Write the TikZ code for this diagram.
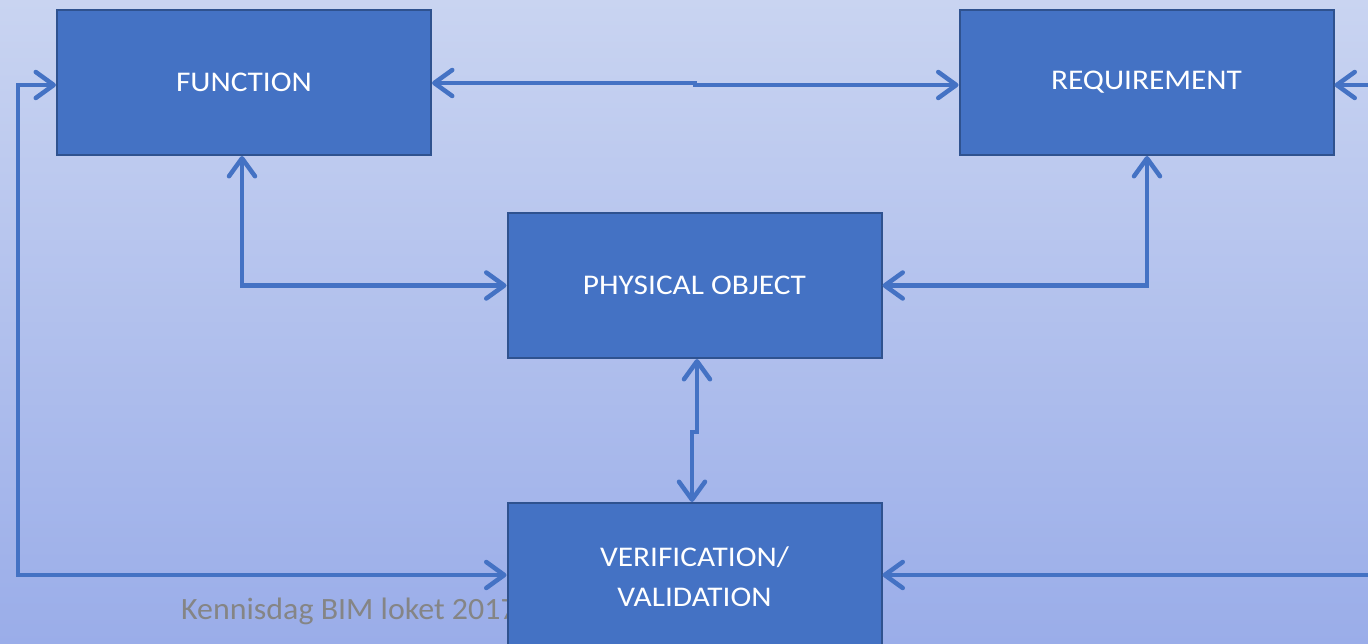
\documentclass[tikz,border=0pt]{standalone}
\usepackage{fontspec}
\usepackage{graphicx}
\setmainfont{Carlito}
\usetikzlibrary{arrows.meta}
\definecolor{bgtop}{RGB}{201,212,241}
\definecolor{bgbot}{RGB}{154,173,233}
\definecolor{boxfill}{RGB}{68,114,196}
\definecolor{boxedge}{RGB}{47,82,143}
\definecolor{linec}{RGB}{68,114,196}
\definecolor{graytext}{RGB}{133,133,133}
\newcommand{\widetxt}[1]{\scalebox{1.10}[1]{#1}}
\tikzset{
  blockbox/.style={draw=boxedge, line width=2pt, fill=boxfill, text=white,
    minimum width=374pt, minimum height=145pt, inner sep=0pt, align=center,
    font=\fontsize{28.5}{40}\selectfont},
  tipx/.tip={Straight Barb[length=18pt,width=26pt,line cap=round,line join=round]},
  conn/.style={draw=linec, line width=4.5pt},
  dbl/.style={conn, tipx-tipx},
  sgl/.style={conn, -tipx}
}
\begin{document}
\begin{tikzpicture}[x=1pt,y=-1pt]
\useasboundingbox (0,0) rectangle (1368,644);
\clip (0,0) rectangle (1368,644);
\fill[top color=bgtop, bottom color=bgbot] (0,0) rectangle (1368,644);
\node[anchor=base west, text=graytext, font=\fontsize{31}{34}\selectfont, inner sep=0pt] (foot) at (181,619) {\scalebox{1.03}[1]{Kennisdag BIM loket 2017}};
\node[blockbox] (func) at (244,82.5) {\widetxt{FUNCTION}};
\node[blockbox] (req) at (1146.5,82.5) {\widetxt{REQUIREMENT}};
\node[blockbox] (phys) at (694.5,285.5) {\widetxt{PHYSICAL OBJECT}};
\node[blockbox, minimum height=148pt] (ver) at (694.5,577) {\widetxt{VERIFICATION/}\\\widetxt{VALIDATION}};
% coordinates
\coordinate (j1) at (695,83);
\coordinate (j2) at (695,85);
\coordinate (j3) at (697,432);
\coordinate (j4) at (692,432);
\coordinate (lt) at (18,85);
\coordinate (lb) at (18,575);
\coordinate (rt) at (1372,85);
\coordinate (rb) at (1372,575);
% connectors
\draw[dbl] (func.east |- j1) -- (j1) -- (j2) -- (req.west |- j2);
\draw[dbl] (func.south -| 242,0) |- (phys.west);
\draw[dbl] (req.south -| 1147,0) |- (phys.east);
\draw[dbl] (phys.south -| j3) -- (j3) -- (j4) -- (ver.north -| j4);
\draw[dbl] (func.west |- lt) -- (lt) -- (lb) -- (ver.west |- lb);
\draw[sgl] (rt) -- (req.east |- rt);
\draw[sgl] (rb) -- (ver.east |- rb);
\end{tikzpicture}
\end{document}
